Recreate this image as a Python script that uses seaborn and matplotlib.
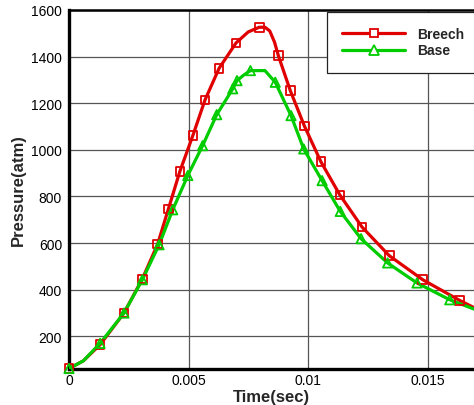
import matplotlib
matplotlib.use("Agg")
import matplotlib.pyplot as plt
import seaborn as sns
import pandas as pd
import numpy as np
from matplotlib.lines import Line2D
from matplotlib.ticker import MultipleLocator

sns.set_style("white")
plt.rcParams['font.family'] = ['Liberation Sans', 'DejaVu Sans']

# Breech curve (line) and markers
breech_t = [0, 0.0006, 0.0013, 0.0023, 0.00307, 0.00371, 0.00416, 0.00464, 0.00518, 0.00569,
            0.00628, 0.00699, 0.0075, 0.00796, 0.0082, 0.0084, 0.0086, 0.00876, 0.00926, 0.00985,
            0.01054, 0.01133, 0.01226, 0.0134, 0.0148, 0.01635, 0.01695]
breech_p = [62, 95, 164, 300, 447, 596, 747, 908, 1061, 1214,
            1350, 1459, 1506, 1526, 1526, 1510, 1462, 1404, 1254, 1102,
            949, 807, 669, 546, 443, 354, 323]
breech_mt = [0, 0.0013, 0.0023, 0.00307, 0.00371, 0.00416, 0.00464, 0.00518, 0.00569, 0.00628,
             0.00699, 0.00796, 0.00876, 0.00926, 0.00985, 0.01054, 0.01133, 0.01226, 0.0134,
             0.0148, 0.01635]
breech_mp = [62, 164, 300, 447, 596, 747, 908, 1061, 1214, 1350,
             1459, 1526, 1404, 1254, 1102, 949, 807, 669, 546,
             443, 354]

# Base curve (line) and markers
base_t = [0, 0.0006, 0.0013, 0.0023, 0.00307, 0.00377, 0.00434, 0.00497, 0.00559, 0.00618,
          0.0066, 0.00685, 0.00703, 0.0073, 0.00759, 0.0082, 0.00863, 0.00929, 0.00982,
          0.01059, 0.01135, 0.01222, 0.01333, 0.01456, 0.01593, 0.01695]
base_p = [62, 95, 170, 300, 443, 593, 743, 890, 1018, 1151,
          1220, 1262, 1297, 1320, 1340, 1340, 1290, 1147, 1004,
          868, 736, 619, 515, 429, 357, 317]
base_mt = [0, 0.0013, 0.0023, 0.00307, 0.00377, 0.00434, 0.00497, 0.00559, 0.00618, 0.00685,
           0.00703, 0.00759, 0.00863, 0.00929, 0.00982, 0.01059, 0.01135, 0.01222, 0.01333,
           0.01456, 0.01593]
base_mp = [62, 170, 300, 443, 593, 743, 890, 1018, 1151, 1262,
           1297, 1340, 1290, 1147, 1004, 868, 736, 619, 515,
           429, 357]

x_ticks = [0, 0.005, 0.01, 0.015]
x_labels = ['0', '0.005', '0.01', '0.015']
y_ticks = [200, 400, 600, 800, 1000, 1200, 1400, 1600]

RED = '#e00000'
GREEN = '#00cc00'

W, H = 474, 406
fig = plt.figure(figsize=(W / 100, H / 100), dpi=100)
ax = fig.add_axes([69 / W, 36 / H, (W - 69) / W, (370 - 11) / H])

ax.grid(True, which='major', color='#555555', lw=0.9, zorder=0)
ax.set_axisbelow(True)

sns.lineplot(x=breech_t, y=breech_p, ax=ax, color=RED, lw=2.3, sort=False, zorder=3)
sns.lineplot(x=base_t, y=base_p, ax=ax, color=GREEN, lw=2.3, sort=False, zorder=4)
sns.scatterplot(x=breech_mt, y=breech_mp, ax=ax, marker='s', s=38, facecolor='none',
                edgecolor=RED, linewidth=1.3, zorder=5, clip_on=False)
sns.scatterplot(x=base_mt, y=base_mp, ax=ax, marker='^', s=45, facecolor='none',
                edgecolor=GREEN, linewidth=1.3, zorder=6, clip_on=False)

ax.set_xlim(0, (W - 69) / 23900)
ax.set_ylim(60, 1600)
ax.set_xticks(x_ticks)
ax.set_xticklabels(x_labels)
ax.set_yticks(y_ticks)
ax.xaxis.set_minor_locator(MultipleLocator(0.001))
ax.yaxis.set_minor_locator(MultipleLocator(50))

ax.tick_params(axis='both', which='major', direction='in', length=6, width=1.6,
               labelsize=10, color='black', labelcolor='black')
ax.tick_params(axis='both', which='minor', direction='in', length=2.5, width=0.8, color='black')
ax.tick_params(axis='x', which='major', pad=3)
ax.tick_params(axis='y', which='major', pad=5)

for s in ['left', 'bottom']:
    ax.spines[s].set_linewidth(2.4)
    ax.spines[s].set_color('black')
ax.spines['top'].set_linewidth(1.8)
ax.spines['top'].set_color('black')
ax.spines['right'].set_visible(False)

ax.set_xlabel('Time(sec)', fontsize=12, fontweight='bold', labelpad=1)
ax.set_ylabel('Pressure(atm)', fontsize=12, fontweight='bold', labelpad=4)

handles = [
    Line2D([], [], color=RED, lw=2.3, marker='s', markersize=6, markerfacecolor='white',
           markeredgecolor=RED, markeredgewidth=1.3),
    Line2D([], [], color=GREEN, lw=2.3, marker='^', markersize=6.5, markerfacecolor='white',
           markeredgecolor=GREEN, markeredgewidth=1.3),
]
leg = ax.legend(handles, ['Breech', 'Base'], loc='upper left',
                bbox_to_anchor=((327 - 69) / (W - 69), 1 - 2 / 359),
                prop={'weight': 'bold', 'size': 10}, frameon=True, fancybox=False,
                handlelength=4.5, handletextpad=0.9, labelspacing=0.15,
                borderpad=1.1, borderaxespad=0, framealpha=1)
leg.get_frame().set_edgecolor('#222222')
leg.get_frame().set_linewidth(0.9)

fig.savefig('out.png', dpi=100)
